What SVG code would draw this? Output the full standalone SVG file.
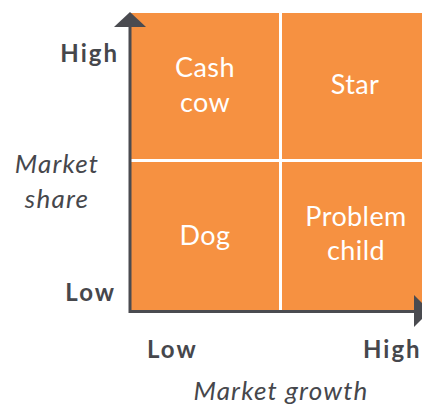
<svg xmlns="http://www.w3.org/2000/svg" width="422" height="406" viewBox="0 0 422 406">
<style>
.q{fill:#F69141}
.qt{font-family:Lato,"Open Sans",sans-serif;font-size:27px;letter-spacing:0.4px;fill:#fff;text-anchor:middle}
.ax{font-family:Lato,"Open Sans",sans-serif;font-size:24px;font-weight:bold;letter-spacing:2px;fill:#46474c}
.ti{font-family:Lato,"Open Sans",sans-serif;font-size:26px;font-style:italic;letter-spacing:1.2px;fill:#46474c;text-anchor:middle}
.axis{stroke:#4a4b50;stroke-width:3;fill:none}
</style>
<rect width="422" height="406" fill="#fff"/>
<g id="cash-cow"><rect class="q" x="131" y="13" width="148" height="146"/><text class="qt" x="205" y="77">Cash</text><text class="qt" x="205" y="112">cow</text></g>
<g id="star"><rect class="q" x="282" y="13" width="140" height="146"/><text class="qt" x="355" y="94">Star</text></g>
<g id="dog"><rect class="q" x="131" y="162" width="148" height="148"/><text class="qt" x="205" y="245">Dog</text></g>
<g id="problem-child"><rect class="q" x="282" y="162" width="140" height="148"/><text class="qt" x="356" y="226">Problem</text><text class="qt" x="356" y="260">child</text></g>
<g id="connectors">
<path class="axis" d="M130 26 V311.5 H416"/>
<polygon points="130,12 146,27 114,27" fill="#4a4b50"/>
<polygon points="414,295 430,311 414,327" fill="#4a4b50"/>
</g>
<g id="labels">
<text class="ax" x="119" y="62" text-anchor="end">High</text>
<text class="ax" x="116" y="301" text-anchor="end">Low</text>
<text class="ax" x="147" y="358">Low</text>
<text class="ax" x="363" y="358" letter-spacing="1.6">High</text>
<text class="ti" x="57" y="173">Market</text>
<text class="ti" x="57" y="208">share</text>
<text class="ti" x="281" y="400">Market growth</text>
</g>
</svg>
